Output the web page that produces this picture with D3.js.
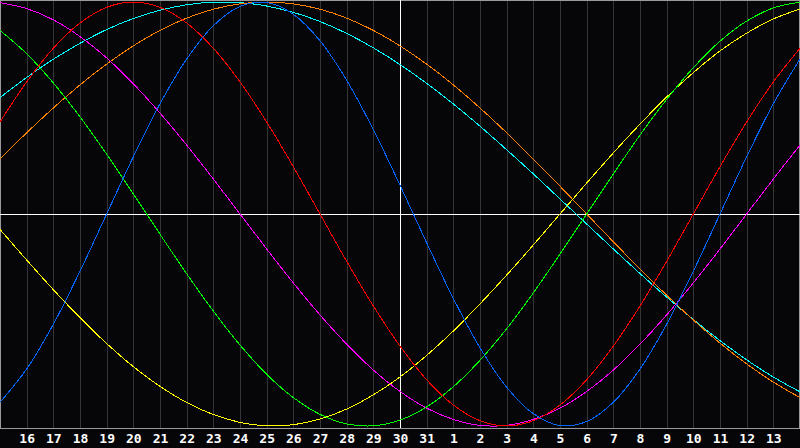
<!DOCTYPE html>
<html><head><meta charset="utf-8">
<script src="https://cdn.jsdelivr.net/npm/d3@7"></script>
<style>html,body{margin:0;padding:0;background:#060608;overflow:hidden}</style>
</head><body>
<svg id="c" width="800" height="448"></svg>
<script>
// day index 0..30 across the chart
const dayLabels = ["16","17","18","19","20","21","22","23","24","25","26","27","28","29","30","31","1","2","3","4","5","6","7","8","9","10","11","12","13"];
const days = d3.range(0, 31);
const blue    = [-0.888,-0.731,-0.520,-0.270,0,0.270,0.520,0.731,0.888,0.979,0.998,0.942,0.817,0.631,0.398,0.136,-0.136,-0.398,-0.631,-0.817,-0.942,-0.998,-0.979,-0.888,-0.731,-0.520,-0.270,0,0.270,0.520,0.731];
const red     = [0.434,0.623,0.782,0.901,0.975,1.0,0.975,0.901,0.782,0.623,0.434,0.223,0,-0.223,-0.434,-0.623,-0.782,-0.901,-0.975,-1.0,-0.975,-0.901,-0.782,-0.623,-0.434,-0.223,0,0.223,0.434,0.623,0.782];
const green   = [0.866,0.756,0.618,0.458,0.282,0.095,-0.095,-0.282,-0.458,-0.618,-0.756,-0.866,-0.945,-0.990,-0.999,-0.972,-0.910,-0.815,-0.690,-0.541,-0.372,-0.189,0,0.189,0.372,0.541,0.690,0.815,0.910,0.972,0.999];
const magenta = [0.997,0.969,0.916,0.837,0.736,0.614,0.476,0.325,0.165,0,-0.165,-0.325,-0.476,-0.614,-0.736,-0.837,-0.916,-0.969,-0.997,-0.997,-0.969,-0.916,-0.837,-0.736,-0.614,-0.476,-0.325,-0.165,0,0.165,0.325];
const yellow  = [-0.073,-0.217,-0.357,-0.489,-0.611,-0.720,-0.813,-0.889,-0.946,-0.983,-0.999,-0.994,-0.967,-0.920,-0.853,-0.769,-0.667,-0.552,-0.424,-0.288,-0.146,0,0.146,0.288,0.424,0.552,0.667,0.769,0.853,0.920,0.967];
const orange  = [0.259,0.383,0.5,0.609,0.707,0.793,0.866,0.924,0.966,0.991,1.0,0.991,0.966,0.924,0.866,0.793,0.707,0.609,0.5,0.383,0.259,0.131,0,-0.131,-0.259,-0.383,-0.5,-0.609,-0.707,-0.793,-0.866];
const cyan    = [0.549,0.644,0.730,0.805,0.870,0.922,0.961,0.987,0.999,0.997,0.981,0.951,0.908,0.852,0.784,0.705,0.616,0.519,0.414,0.303,0.189,0.071,-0.047,-0.165,-0.281,-0.392,-0.498,-0.597,-0.688,-0.769,-0.839];

const series = [
  {name:"cyan", values:cyan, color:"#00ffff"},
  {name:"orange", values:orange, color:"#ff8000"},
  {name:"yellow", values:yellow, color:"#ffff00"},
  {name:"magenta", values:magenta, color:"#ff00ff"},
  {name:"green", values:green, color:"#00ff00"},
  {name:"red", values:red, color:"#ff0000"},
  {name:"blue", values:blue, color:"#0066ff"}
];

const W = 800, H = 428;
const svg = d3.select("#c");
const x = d3.scaleLinear().domain([0, 30]).range([0, W]);
const y = d3.scaleLinear().domain([-1, 1]).range([426, 2]);

svg.append("rect").attr("width", 800).attr("height", 448).attr("fill", "#060608");

// grid + axis
const axis = d3.axisBottom(x)
  .tickValues(d3.range(1, 30))
  .tickSize(-H)
  .tickFormat((d, i) => dayLabels[i]);
const gA = svg.append("g").attr("transform", `translate(0,${H})`).call(axis);
gA.select(".domain").remove();
gA.selectAll(".tick line").attr("stroke", "#353535").attr("shape-rendering", "crispEdges");
gA.selectAll(".tick text")
  .attr("fill", "#ffffff")
  .attr("y", 0).attr("dy", 15)
  .style("font-family", "'DejaVu Sans Mono', monospace")
  .style("font-weight", "bold")
  .style("font-size", "13px");

// frame
svg.append("line").attr("x1", 0.5).attr("x2", 0.5).attr("y1", 0).attr("y2", H).attr("stroke", "#9a9a9a");
svg.append("line").attr("x1", 0).attr("x2", W).attr("y1", 0.5).attr("y2", 0.5).attr("stroke", "#9a9a9a");
svg.append("line").attr("x1", W - 0.5).attr("x2", W - 0.5).attr("y1", 0).attr("y2", H).attr("stroke", "#9a9a9a");
svg.append("line").attr("x1", 0).attr("x2", W).attr("y1", H + 0.5).attr("y2", H + 0.5).attr("stroke", "#9a9a9a");

// center cross lines
svg.append("line").attr("x1", x(15) + 0.5).attr("x2", x(15) + 0.5).attr("y1", 0).attr("y2", H).attr("stroke", "#ffffff");
svg.append("line").attr("x1", 0).attr("x2", W).attr("y1", y(0) + 0.5).attr("y2", y(0) + 0.5).attr("stroke", "#ffffff");

// curves
const line = d3.line()
  .x((d, i) => x(days[i]))
  .y(d => y(d))
  .curve(d3.curveCatmullRom.alpha(0.5));
const gC = svg.append("g");
series.forEach(s => {
  gC.append("path")
    .datum(s.values)
    .attr("d", line)
    .attr("fill", "none")
    .attr("stroke", s.color)
    .attr("stroke-width", 1)
    .attr("shape-rendering", "crispEdges");
});
</script>
</body></html>
